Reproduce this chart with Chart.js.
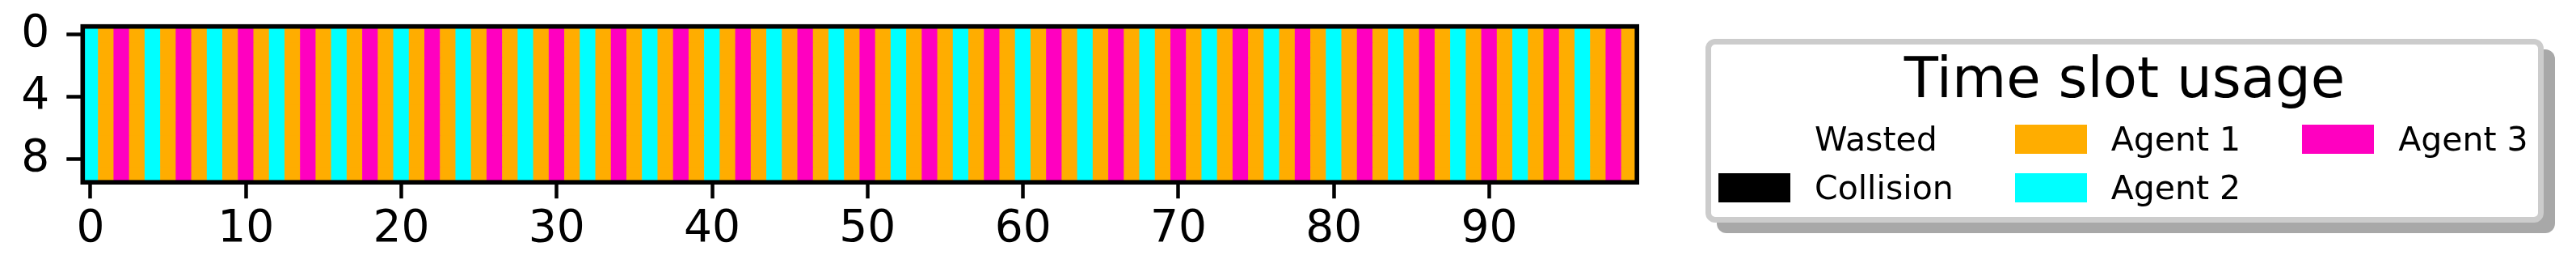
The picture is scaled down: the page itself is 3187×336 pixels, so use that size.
<!DOCTYPE html>
<html>
<head>
<meta charset="utf-8">
<script src="https://cdn.jsdelivr.net/npm/chart.js@4/dist/chart.umd.min.js"></script>
<style>
  body { margin: 0; background: #fff; font-family: "DejaVu Sans", sans-serif; }
  #chart { position: absolute; left: 0; top: 0; }
  #legend {
    position: absolute; left: 2110px; top: 48px; width: 1037px; height: 227px;
    box-sizing: border-box; border: 7px solid #cccccc; border-radius: 12px;
    background: #fff; box-shadow: 14px 13px 0 #a8a8a8;
  }
  #legend-title {
    position: absolute; left: 2110px; top: 61.6px; width: 1037px;
    text-align: center; font-size: 69px; line-height: 1; color: #000;
  }
  #legend-items {
    position: absolute; left: 2126px; top: 142px; display: flex; gap: 76px;
  }
  .col { display: flex; flex-direction: column; }
  .item { height: 60px; display: flex; align-items: center; font-size: 41px; line-height: 60px; color: #000; }
  .patch { width: 89px; height: 36px; margin-right: 30px; }
</style>
</head>
<body>
<canvas id="chart" width="3187" height="336"></canvas>
<div id="legend"></div>
<div id="legend-title">Time slot usage</div>
<div id="legend-items"></div>
<script>
// legend entries, index = slot state code
const legendLabels = ["Wasted", "Collision", "Agent 1", "Agent 2", "Agent 3"];
const legendColors = ["#ffffff", "#000000", "#ffad00", "#00ffff", "#ff00c0"];

// owner of each of the 100 time slots (same for every row)
const slotOwner = [
  3, 2, 4, 2, 3, 2, 4, 2, 3, 2, 4, 2, 3, 2, 4, 2, 3, 2, 4, 2,
  3, 2, 4, 2, 3, 2, 4, 2, 3, 2, 4, 2, 3, 2, 4, 2, 3, 2, 4, 2,
  3, 2, 4, 2, 3, 2, 4, 2, 3, 2, 4, 2, 3, 2, 4, 2, 3, 2, 4, 2,
  3, 2, 4, 2, 3, 2, 4, 2, 3, 2, 4, 2, 3, 2, 4, 2, 3, 2, 4, 2,
  3, 2, 4, 2, 3, 2, 4, 2, 3, 2, 4, 2, 3, 2, 4, 2, 3, 2, 4, 2,
];
const rows = [0, 1, 2, 3, 4, 5, 6, 7, 8, 9];
const xTicks = [0, 10, 20, 30, 40, 50, 60, 70, 80, 90];
const yTicks = [0, 4, 8];

Chart.defaults.font.family = "DejaVu Sans";
Chart.defaults.color = "#000";

const datasets = rows.map((r) => ({
  data: slotOwner.map((o, i) => ({ x: i, y: [r - 0.5, r + 0.5] })),
  backgroundColor: slotOwner.map((o) => legendColors[o]),
  borderWidth: 0,
  grouped: false,
  barPercentage: 1,
  categoryPercentage: 1,
}));

const frame = {
  id: "frame",
  afterDatasetsDraw(chart) {
    const { ctx, chartArea: a } = chart;
    ctx.save();
    ctx.lineWidth = 5.6;
    ctx.strokeStyle = "#000";
    ctx.strokeRect(a.left, a.top, a.right - a.left, a.bottom - a.top);
    ctx.restore();
  },
};

const tickGrid = {
  display: true,
  drawOnChartArea: false,
  drawTicks: true,
  tickLength: 20,
  tickWidth: 4.5,
  tickColor: "#000",
  offset: false,
};

// keep the plot box where the reference has it
const noPad = (s) => {
  s.paddingTop = 0;
  s.paddingBottom = 0;
  s.paddingLeft = 0;
  s.paddingRight = 0;
};

new Chart(document.getElementById("chart"), {
  type: "bar",
  data: { datasets },
  options: {
    responsive: false,
    devicePixelRatio: 1,
    animation: false,
    layout: { padding: { left: 0, top: 32.7, right: 1161.8, bottom: 0 } },
    plugins: { legend: { display: false }, tooltip: { enabled: false } },
    scales: {
      x: {
        type: "linear",
        offset: false,
        min: -0.5,
        max: 99.5,
        grid: tickGrid,
        border: { display: false },
        ticks: { font: { size: 55 }, padding: 6, maxRotation: 0 },
        afterBuildTicks: (s) => { s.ticks = xTicks.map((v) => ({ value: v })); },
        afterFit: (s) => { s.height = 110.8; noPad(s); },
      },
      y: {
        type: "linear",
        reverse: true,
        min: -0.5,
        max: 9.5,
        grid: tickGrid,
        border: { display: false },
        ticks: { font: { size: 55 }, padding: 21 },
        afterBuildTicks: (s) => { s.ticks = yTicks.map((v) => ({ value: v })); },
        afterFit: (s) => { s.width = 102.3; noPad(s); },
      },
    },
  },
  plugins: [frame],
});

// legend laid out column by column, two rows per column
const items = document.getElementById("legend-items");
for (let c = 0; c < legendLabels.length; c += 2) {
  const col = document.createElement("div");
  col.className = "col";
  for (let k = c; k < Math.min(c + 2, legendLabels.length); k++) {
    const item = document.createElement("div");
    item.className = "item";
    const patch = document.createElement("span");
    patch.className = "patch";
    patch.style.background = legendColors[k];
    const label = document.createElement("span");
    label.textContent = legendLabels[k];
    item.appendChild(patch);
    item.appendChild(label);
    col.appendChild(item);
  }
  items.appendChild(col);
}
</script>
</body>
</html>
